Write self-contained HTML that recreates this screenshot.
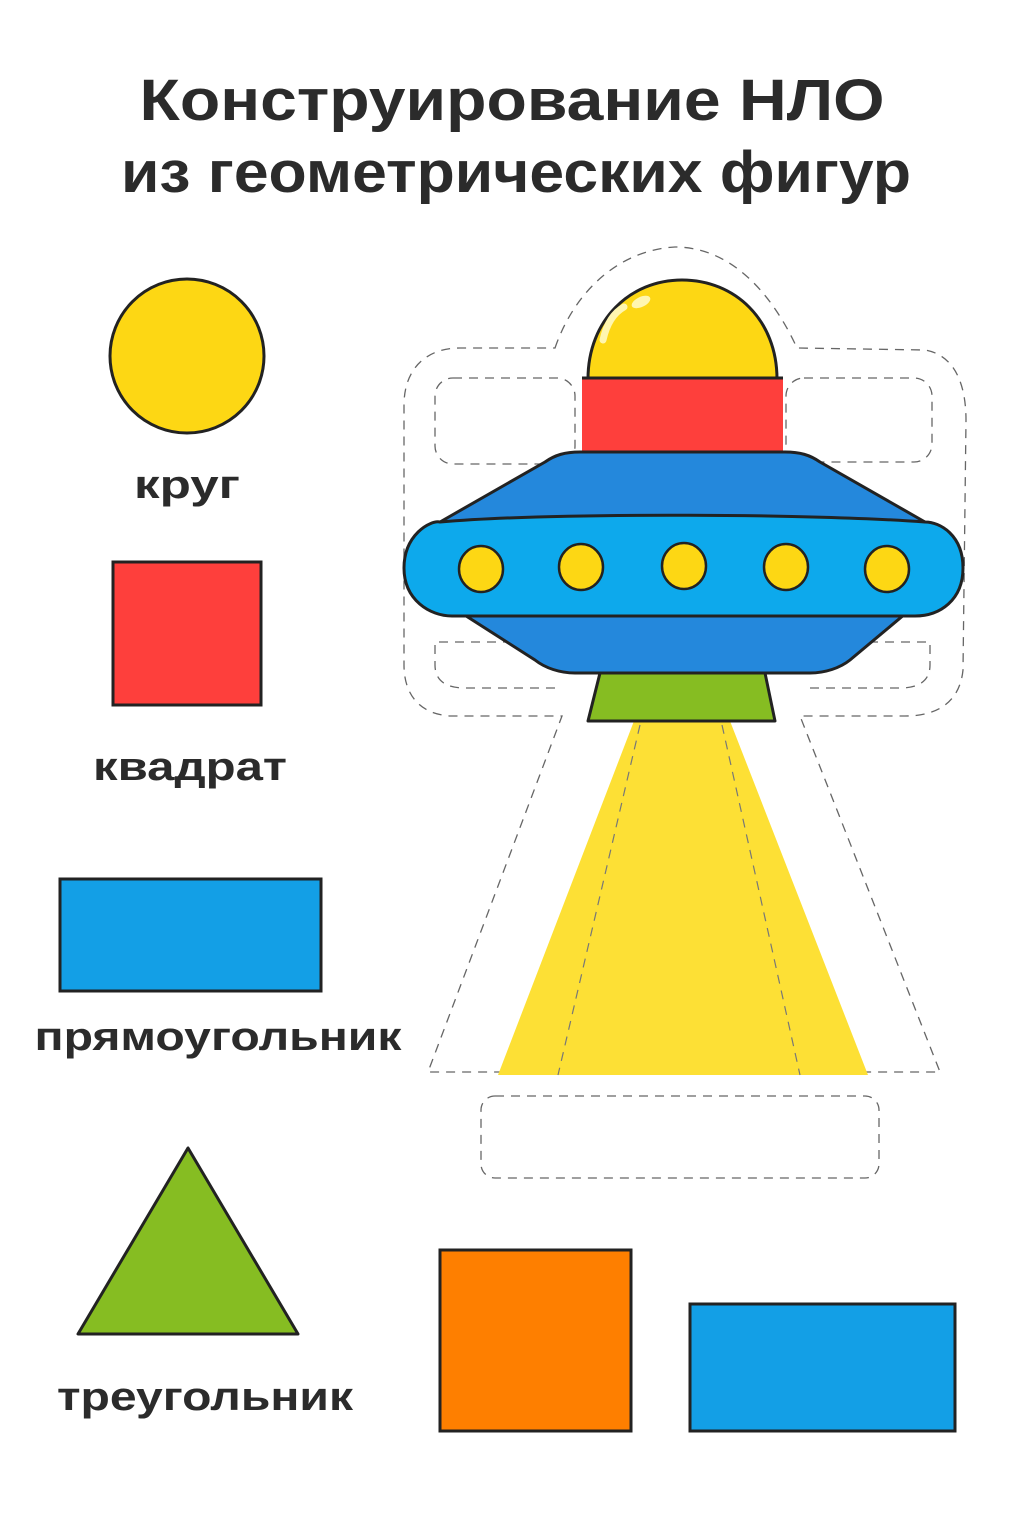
<!DOCTYPE html>
<html><head><meta charset="utf-8"><style>html,body{margin:0;padding:0;background:#fff}svg{display:block}</style></head>
<body>
<svg width="1024" height="1536" viewBox="0 0 1024 1536" xmlns="http://www.w3.org/2000/svg" font-family="Liberation Sans, DejaVu Sans, sans-serif" font-weight="bold">
<rect width="1024" height="1536" fill="#fff"/>
<text x="512" y="120" text-anchor="middle" font-size="58" fill="#2b2b2b" textLength="745" lengthAdjust="spacingAndGlyphs">Конструирование НЛО</text>
<text x="516" y="192" text-anchor="middle" font-size="58" fill="#2b2b2b" textLength="790" lengthAdjust="spacingAndGlyphs">из геометрических фигур</text>

<circle cx="187" cy="356" r="77" fill="#fdd714" stroke="#222" stroke-width="3"/>
<text x="187" y="498" text-anchor="middle" font-size="40" fill="#2b2b2b" textLength="106" lengthAdjust="spacingAndGlyphs">круг</text>
<rect x="113" y="562" width="148" height="143" fill="#fe3f3c" stroke="#222" stroke-width="3"/>
<text x="190" y="780" text-anchor="middle" font-size="40" fill="#2b2b2b" textLength="194" lengthAdjust="spacingAndGlyphs">квадрат</text>
<rect x="60" y="879" width="261" height="112" fill="#139fe6" stroke="#222" stroke-width="3"/>
<text x="218" y="1050" text-anchor="middle" font-size="40" fill="#2b2b2b" textLength="367" lengthAdjust="spacingAndGlyphs">прямоугольник</text>
<polygon points="188,1148 78,1334 298,1334" fill="#86bd22" stroke="#222" stroke-width="3" stroke-linejoin="round"/>
<text x="205" y="1410" text-anchor="middle" font-size="40" fill="#2b2b2b" textLength="296" lengthAdjust="spacingAndGlyphs">треугольник</text>
<rect x="440" y="1250" width="191" height="181" fill="#fe7f00" stroke="#222" stroke-width="3"/>
<rect x="690" y="1304" width="265" height="127" fill="#139fe6" stroke="#222" stroke-width="3"/>

<g fill="none" stroke="#666" stroke-width="1.3" stroke-dasharray="9 7">
<path d="M555,348 C575,290 620,250 675,247 C735,247 775,300 797,348 L925,350 C955,355 966,385 966,420 L963,670 C960,700 940,716 905,716 L800,716 L940,1072 L428,1072 L562,716 L450,716 C420,714 404,695 404,665 L404,405 C404,370 425,348 460,348 Z"/>
<rect x="435" y="378" width="140" height="86" rx="18"/>
<rect x="786" y="378" width="146" height="84" rx="18"/>
<path d="M560,642 L435,642 L435,665 C435,680 445,688 465,688 L560,688"/>
<path d="M805,642 L930,642 L930,665 C930,680 920,688 900,688 L805,688"/>
<rect x="481" y="1096" width="398" height="82" rx="14"/>
</g>

<polygon points="634,721 730,721 868,1075 498,1075" fill="#fde035"/>
<g stroke="#777" stroke-width="1.2" stroke-dasharray="9 7" fill="none">
<line x1="640" y1="725" x2="558" y2="1075"/>
<line x1="722" y1="725" x2="800" y2="1075"/>
</g>

<g stroke="#222" stroke-width="3" stroke-linejoin="round">
<polygon points="600,673 765,673 775,721 588,721" fill="#86bd22"/>
<path d="M588,379 C588,320 630,280 682,280 C735,280 777,320 777,379 Z" fill="#fdd714"/>
<rect x="582" y="378" width="201" height="74" fill="#fe3f3c" stroke="none"/>
<line x1="582" y1="378" x2="783" y2="378"/>
<path d="M463,614 L905,614 L850,660 C840,668 825,673 810,673 L575,673 C560,673 545,668 535,660 Z" fill="#2488dc"/>
<path d="M440,522 L545,462 C555,455 565,452 580,452 L785,452 C800,452 810,455 820,462 L925,522 Z" fill="#2488dc"/>
<path d="M440,522 C430,520 404,535 404,568 C404,600 430,616 452,616 L915,616 C940,616 963,600 963,568 C963,535 940,522 925,522 C820,514 560,512 440,522 Z" fill="#0da9ec"/>
<g fill="#fdd714" stroke-width="2.5">
<ellipse cx="481" cy="569" rx="22" ry="23"/>
<ellipse cx="581" cy="567" rx="22" ry="23"/>
<ellipse cx="684" cy="566" rx="22" ry="23"/>
<ellipse cx="786" cy="567" rx="22" ry="23"/>
<ellipse cx="887" cy="569" rx="22" ry="23"/>
</g>
</g>
<path d="M603,340 C607,322 615,312 624,307" stroke="#fff6b0" stroke-width="7" stroke-linecap="round" fill="none"/>
<ellipse cx="641" cy="302" rx="10" ry="5" fill="#fff6b0" transform="rotate(-25 641 302)"/>
</svg>
</body></html>
